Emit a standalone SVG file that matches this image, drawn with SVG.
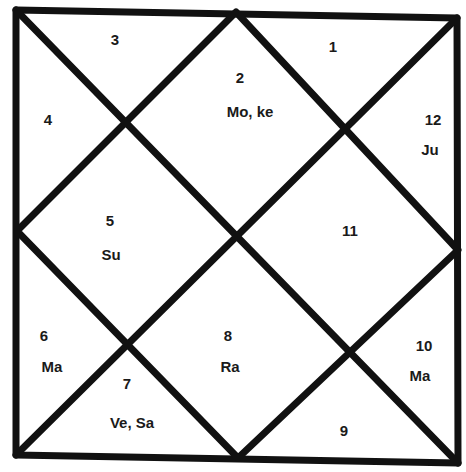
<svg xmlns="http://www.w3.org/2000/svg" width="466" height="472" viewBox="0 0 466 472">
<style>
.ln{stroke:#111;stroke-width:7;fill:none;stroke-linecap:round;stroke-linejoin:round}
.t{font-family:"Comic Sans MS","Liberation Sans",sans-serif;font-size:15px;font-weight:bold;fill:#1a1a1a;text-anchor:middle}
</style>
<rect width="466" height="472" fill="#fff"/>
<g id="connectors" class="ln">
<path d="M16,10 L457,18 L458,463 L16,455 Z"/>
<path d="M16,10 L458,463"/>
<path d="M457,18 L16,455"/>
<path d="M236,12 L17,231 L238,458 L458,250 Z"/>
</g>
<g id="h1"><text class="t" x="333" y="52">1</text></g>
<g id="h2"><text class="t" x="240" y="83">2</text><text class="t" x="250" y="117">Mo, ke</text></g>
<g id="h3"><text class="t" x="115" y="45">3</text></g>
<g id="h4"><text class="t" x="48" y="125">4</text></g>
<g id="h5"><text class="t" x="110" y="226">5</text><text class="t" x="111" y="260">Su</text></g>
<g id="h6"><text class="t" x="44" y="341">6</text><text class="t" x="52" y="372">Ma</text></g>
<g id="h7"><text class="t" x="127" y="389">7</text><text class="t" x="132" y="428">Ve, Sa</text></g>
<g id="h8"><text class="t" x="228" y="341">8</text><text class="t" x="230" y="372">Ra</text></g>
<g id="h9"><text class="t" x="344" y="436">9</text></g>
<g id="h10"><text class="t" x="424" y="351">10</text><text class="t" x="420" y="381">Ma</text></g>
<g id="h11"><text class="t" x="350" y="236">11</text></g>
<g id="h12"><text class="t" x="433" y="125">12</text><text class="t" x="430" y="155">Ju</text></g>
</svg>
